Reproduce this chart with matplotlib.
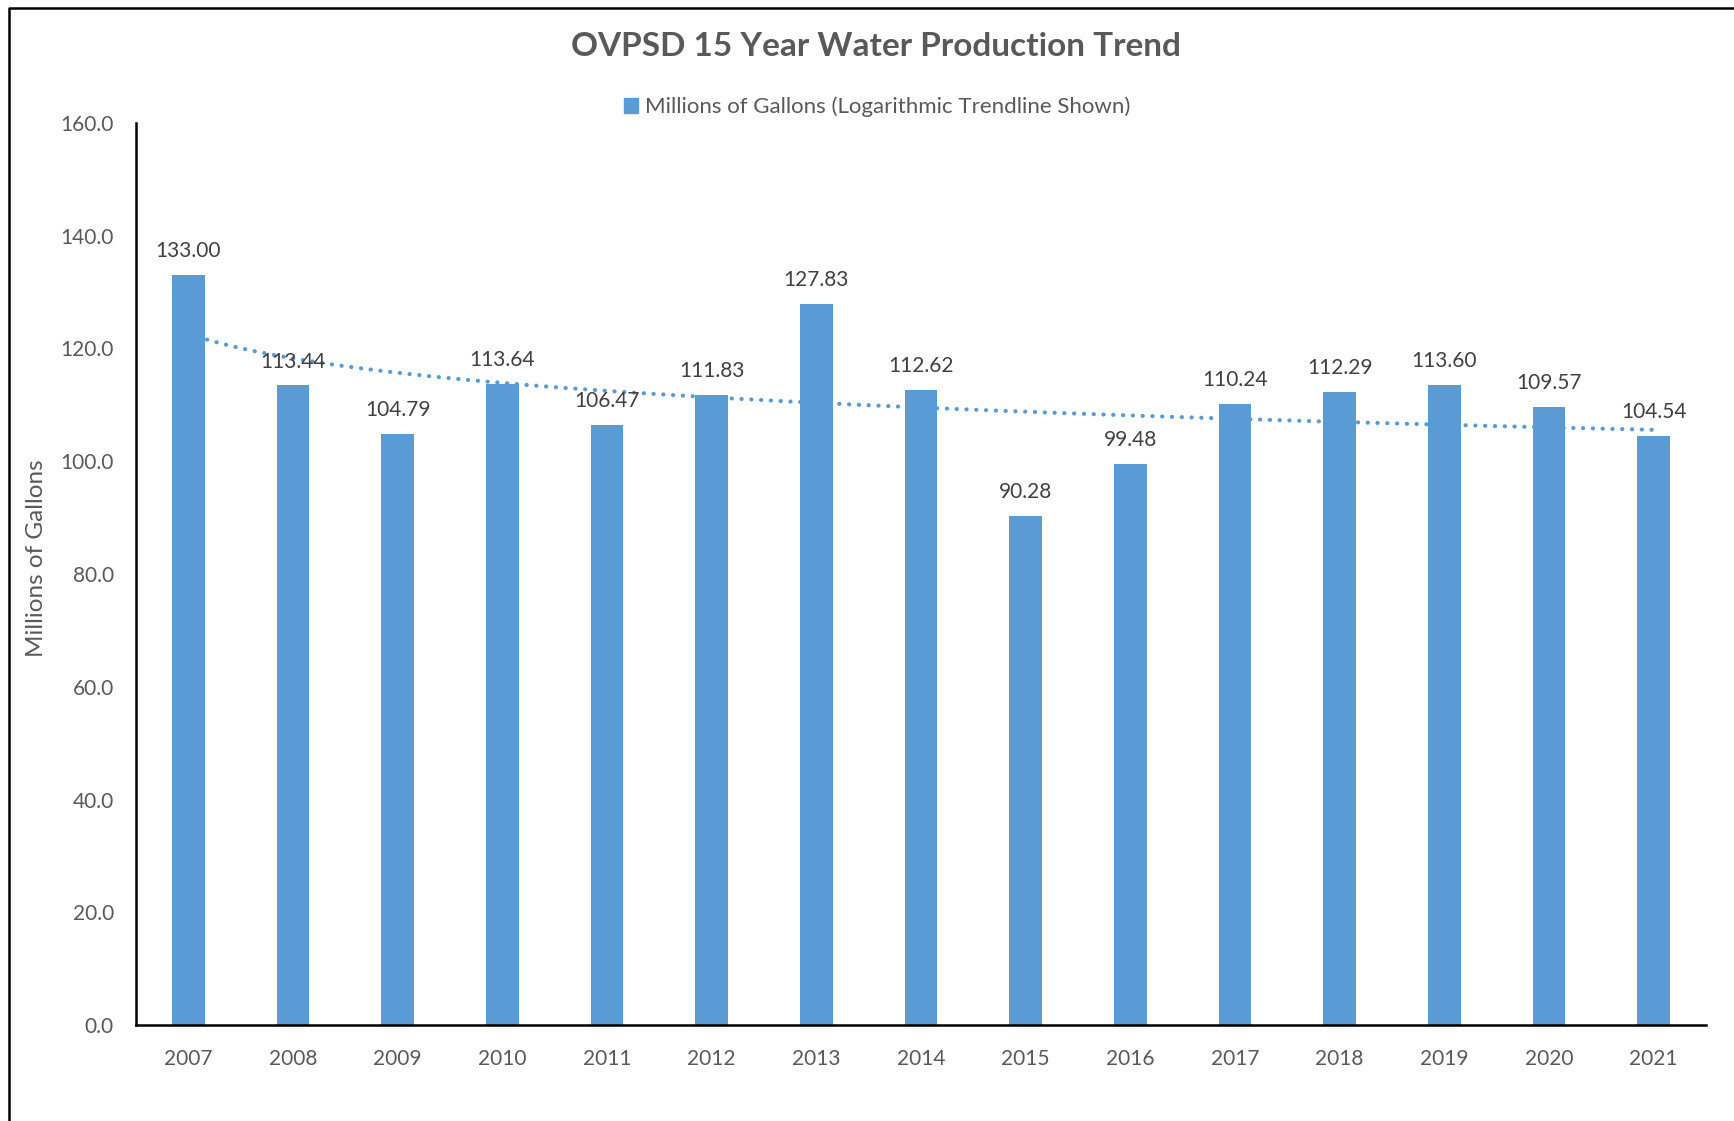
import numpy as np
import matplotlib
matplotlib.use("Agg")
import matplotlib.pyplot as plt
from matplotlib.patches import Patch
from matplotlib.lines import Line2D

years = ["2007", "2008", "2009", "2010", "2011", "2012", "2013", "2014",
         "2015", "2016", "2017", "2018", "2019", "2020", "2021"]
gallons = [133.00, 113.44, 104.79, 113.64, 106.47, 111.83, 127.83, 112.62,
           90.28, 99.48, 110.24, 112.29, 113.60, 109.57, 104.54]
yticks = [0, 20, 40, 60, 80, 100, 120, 140, 160]

title = "OVPSD 15 Year Water Production Trend"
legend_label = "Millions of Gallons (Logarithmic Trendline Shown)"
ylabel = "Millions of Gallons"

BAR = "#5B9BD5"
GREY = "#595959"
DARK = "#404040"
FONT = ["Lato", "DejaVu Sans"]
plt.rcParams["font.family"] = FONT

W, H = 1734, 1121
fig = plt.figure(figsize=(W / 100, H / 100), dpi=100)
ax = fig.add_axes([136 / W, 1 - 1025 / H, (1706 - 136) / W, (1025 - 123) / H])

x = np.arange(len(years))
ax.bar(x, gallons, width=0.315, color=BAR, zorder=2)

# logarithmic trendline (Excel-style fit of y = a ln(k) + b, k = 1..n)
k = np.arange(1, len(gallons) + 1)
a, b = np.polyfit(np.log(k), gallons, 1)
kk = np.linspace(1, len(gallons), 300)
ax.plot(kk - 1, a * np.log(kk) + b, linestyle=(0, (0.05, 2.3)), color=BAR,
        linewidth=3.0, dash_capstyle="round", solid_capstyle="round", zorder=1)

for xi, v in zip(x, gallons):
    ax.annotate(f"{v:.2f}", (xi, v), xytext=(0, 10), textcoords="offset points",
                ha="center", va="bottom", fontsize=15, color=DARK)

ax.set_xlim(-0.5, len(years) - 0.5)
ax.set_ylim(0, 160)
ax.set_yticks(yticks)
ax.set_yticklabels([f"{t:.1f}" for t in yticks])
ax.set_xticks(x)
ax.set_xticklabels(years)
ax.tick_params(axis="both", length=0, labelsize=15, labelcolor=GREY)
ax.tick_params(axis="y", pad=16)
ax.tick_params(axis="x", pad=17.5)
for s in ["top", "right"]:
    ax.spines[s].set_visible(False)
for s in ["left", "bottom"]:
    ax.spines[s].set_color("black")
    ax.spines[s].set_linewidth(1.8)

ax.set_ylabel(ylabel, fontsize=17.5, color=GREY, va="center")
ax.yaxis.set_label_coords((36 - 136) / (1706 - 136), (1025 - 558) / (1025 - 123))

fig.text(876 / W, 1 - 46 / H, title, ha="center", va="center",
         fontsize=24, fontweight="bold", color=GREY)

fig.legend(handles=[Patch(color=BAR, label=legend_label)], loc="center",
           bbox_to_anchor=(877 / W, 1 - 107 / H), bbox_transform=fig.transFigure,
           frameon=False, fontsize=16, labelcolor=GREY,
           handlelength=0.65, handleheight=0.65, handletextpad=0.3)

# frame lines (top and left) as in the screenshot
fig.add_artist(Line2D([9 / W, 9 / W, 1.0], [0, 1 - 8 / H, 1 - 8 / H],
                      transform=fig.transFigure, color="black", linewidth=1.8))

fig.savefig("out.png", dpi=100, facecolor="white")
